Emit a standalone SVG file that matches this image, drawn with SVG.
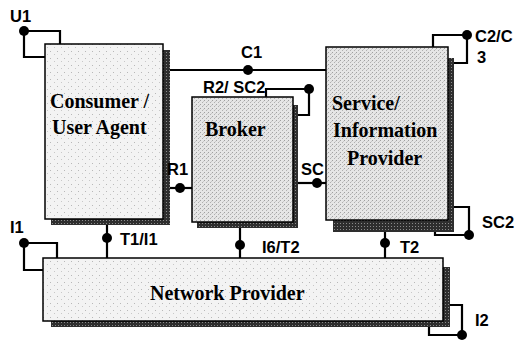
<svg xmlns="http://www.w3.org/2000/svg" width="520" height="340" viewBox="0 0 520 340">
<defs>
<pattern id="lt" width="7" height="7" patternUnits="userSpaceOnUse">
<rect width="7" height="7" fill="#f3f3f3"/>
<rect x="1" y="2" width="1" height="1" fill="#b8b8b8"/>
<rect x="5" y="5" width="1" height="1" fill="#c8c8c8"/>
</pattern>
<pattern id="dk" width="4" height="4" patternUnits="userSpaceOnUse">
<rect width="4" height="4" fill="#e6e6e6"/>
<rect x="0" y="0" width="1" height="1" fill="#a0a0a0"/>
<rect x="2" y="2" width="1" height="1" fill="#b0b0b0"/>
<rect x="3" y="1" width="1" height="1" fill="#c8c8c8"/>
</pattern>
<pattern id="sh" width="3" height="3" patternUnits="userSpaceOnUse">
<rect width="3" height="3" fill="#2e2e2e"/>
<rect x="1" y="1" width="1" height="1" fill="#8a8a8a"/>
</pattern>
</defs>
<style>
.box{stroke:#000;stroke-width:1.5}
.shadow{fill:url(#sh)}
.name{font-family:"Liberation Serif","Times New Roman",serif;font-weight:bold;font-size:20px;fill:#000}
.lbl{font-family:"Liberation Sans",Arial,sans-serif;font-weight:bold;font-size:16.5px;fill:#000}
.ln{fill:none;stroke:#000;stroke-width:2.2}
.dot{fill:#000}
</style>
<g id="consumer">
<rect class="shadow" x="51" y="50" width="119" height="175"/>
<rect class="box" x="45" y="44" width="118" height="175" fill="url(#lt)"/>
<text class="name" x="50" y="108">Consumer /</text>
<text class="name" x="52" y="134">User Agent</text>
</g>
<g id="broker">
<rect class="shadow" x="197" y="105" width="101" height="123"/>
<rect class="box" x="192" y="97" width="101" height="125" fill="url(#dk)"/>
<text class="name" x="205" y="136">Broker</text>
</g>
<g id="service">
<path class="shadow" d="M448,58 H454 V232 H333 V220 H448 Z"/>
<rect class="box" x="326" y="47" width="122" height="173" fill="url(#dk)"/>
<text class="name" x="332" y="110">Service/</text>
<text class="name" x="333" y="137">Information</text>
<text class="name" x="347" y="165">Provider</text>
</g>
<g id="network">
<rect class="shadow" x="51" y="267" width="399" height="60"/>
<rect class="box" x="43" y="258" width="400" height="63" fill="url(#lt)"/>
<text class="name" x="150" y="300">Network Provider</text>
</g>
<g id="connectors">
<path class="ln" d="M60,44 V31 H24 V57 H45"/>
<circle class="dot" cx="24" cy="31" r="5"/>
<path class="ln" d="M170,70 H326"/>
<circle class="dot" cx="248" cy="70" r="5"/>
<path class="ln" d="M266,97 V89 H309 V115 H298"/>
<circle class="dot" cx="309" cy="89" r="5"/>
<path class="ln" d="M433,47 V35 H467 V63 H454"/>
<circle class="dot" cx="467" cy="35" r="5"/>
<path class="ln" d="M170,188 H192"/>
<circle class="dot" cx="180" cy="188" r="5"/>
<path class="ln" d="M298,183 H326"/>
<circle class="dot" cx="317" cy="183" r="5"/>
<path class="ln" d="M454,207 H469 V235 H435 V232"/>
<circle class="dot" cx="469" cy="235" r="5"/>
<path class="ln" d="M107,225 V258"/>
<circle class="dot" cx="107" cy="238" r="5"/>
<path class="ln" d="M240,228 V258"/>
<circle class="dot" cx="240" cy="245" r="5"/>
<path class="ln" d="M385,232 V258"/>
<circle class="dot" cx="385" cy="243" r="5"/>
<path class="ln" d="M57,258 V243 H24 V270 H43"/>
<circle class="dot" cx="24" cy="243" r="5"/>
<path class="ln" d="M450,305 H462 V335 H429 V327"/>
<circle class="dot" cx="462" cy="335" r="5"/>
<text class="lbl" x="10" y="22">U1</text>
<text class="lbl" x="241" y="58">C1</text>
<text class="lbl" x="203" y="93">R2/ SC2</text>
<text class="lbl" x="475" y="42">C2/C</text>
<text class="lbl" x="477" y="63">3</text>
<text class="lbl" x="167" y="175">R1</text>
<text class="lbl" x="301" y="175">SC</text>
<text class="lbl" x="482" y="228">SC2</text>
<text class="lbl" x="120" y="245">T1/I1</text>
<text class="lbl" x="262" y="253">I6/T2</text>
<text class="lbl" x="400" y="253">T2</text>
<text class="lbl" x="10" y="233">I1</text>
<text class="lbl" x="475" y="326">I2</text>
</g>
</svg>
